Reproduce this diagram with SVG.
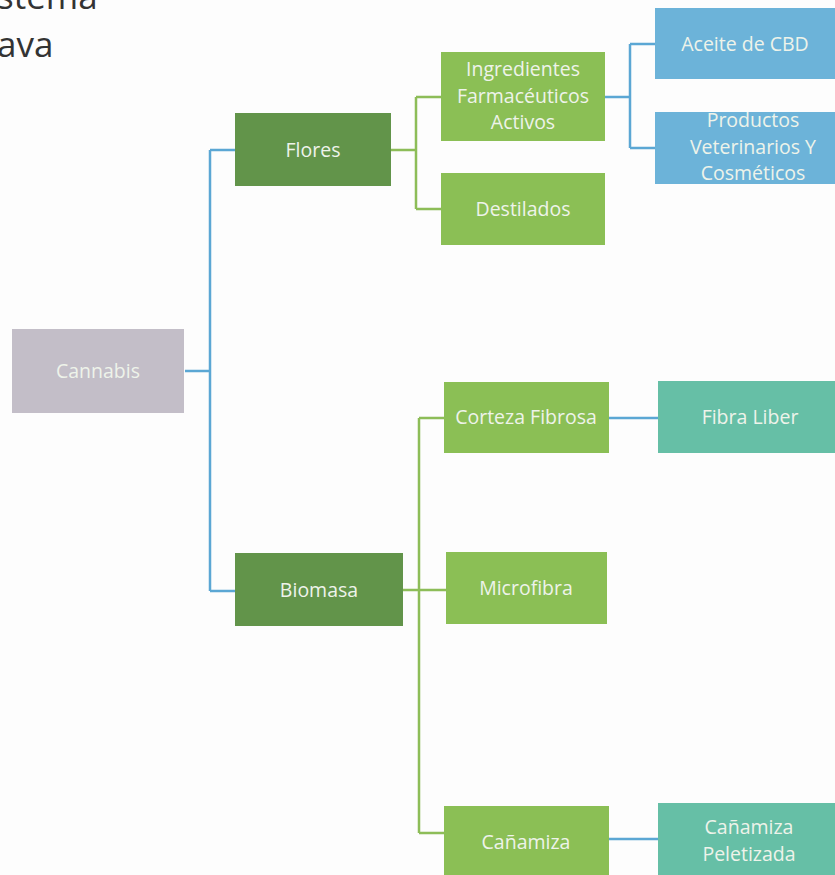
<svg xmlns="http://www.w3.org/2000/svg" width="835" height="875" viewBox="0 0 835 875">
<style>
.t{font-family:"Open Sans","Noto Sans",sans-serif;font-size:19.5px;fill:#eef3ea;text-anchor:middle}
.title{font-family:"Open Sans","Noto Sans",sans-serif;font-size:35px;fill:#333333}
.cb{fill:none;stroke:#5ba7d4;stroke-width:2.5}
.cg{fill:none;stroke:#8dbd58;stroke-width:2.5}
.gray{fill:#c3bec8}.dg{fill:#62944a}.lg{fill:#8bbf55}.bl{fill:#6cb3d9}.tl{fill:#66bfa6}
</style>
<rect width="835" height="875" fill="#fdfdfd"/>
<text class="title" x="-3" y="9">stema</text>
<text class="title" x="-3" y="57">ava</text>
<g id="connectors">
<path class="cb" d="M185 371H210M210 150V591M210 150H235M210 591H235"/>
<path class="cg" d="M391 150H416M416 97V209M416 97H441M416 209H441"/>
<path class="cb" d="M605 97H630M630 44V148M630 44H655M630 148H655"/>
<path class="cg" d="M403 590H446M419 418V833M419 418H444M419 833H444"/>
<path class="cb" d="M609 418H658"/>
<path class="cb" d="M609 839H658"/>
</g>
<g id="cannabis"><rect class="gray" x="12" y="329" width="172" height="84"/><text class="t" x="98" y="378">Cannabis</text></g>
<g id="flores"><rect class="dg" x="235" y="113" width="156" height="73"/><text class="t" x="313" y="157">Flores</text></g>
<g id="biomasa"><rect class="dg" x="235" y="553" width="168" height="73"/><text class="t" x="319" y="597">Biomasa</text></g>
<g id="ingredientes"><rect class="lg" x="441" y="52" width="164" height="89"/><text class="t" x="523" y="76">Ingredientes<tspan x="523" dy="26.5">Farmacéuticos</tspan><tspan x="523" dy="26.5">Activos</tspan></text></g>
<g id="destilados"><rect class="lg" x="441" y="173" width="164" height="72"/><text class="t" x="523" y="216">Destilados</text></g>
<g id="aceite"><rect class="bl" x="655" y="8" width="185" height="71"/><text class="t" x="745" y="51">Aceite de CBD</text></g>
<g id="productos"><rect class="bl" x="655" y="112" width="185" height="72"/><text class="t" x="753" y="127">Productos<tspan x="753" dy="26.5">Veterinarios Y</tspan><tspan x="753" dy="26.5">Cosméticos</tspan></text></g>
<g id="corteza"><rect class="lg" x="444" y="382" width="165" height="71"/><text class="t" x="526" y="424">Corteza Fibrosa</text></g>
<g id="fibra"><rect class="tl" x="658" y="381" width="182" height="72"/><text class="t" x="750" y="424">Fibra Liber</text></g>
<g id="microfibra"><rect class="lg" x="446" y="552" width="161" height="72"/><text class="t" x="526" y="595">Microfibra</text></g>
<g id="canamiza"><rect class="lg" x="444" y="806" width="165" height="75"/><text class="t" x="526" y="849">Cañamiza</text></g>
<g id="peletizada"><rect class="tl" x="658" y="803" width="182" height="75"/><text class="t" x="749" y="834">Cañamiza<tspan x="749" dy="26.5">Peletizada</tspan></text></g>
</svg>
